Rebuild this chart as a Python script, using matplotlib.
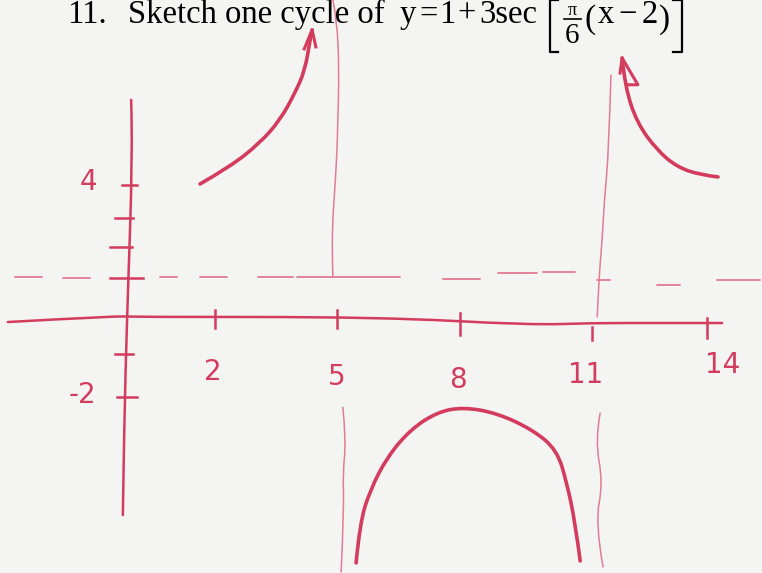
import matplotlib
matplotlib.use("Agg")
import matplotlib.pyplot as plt
from matplotlib.path import Path
from matplotlib.patches import PathPatch

# hand sketch of y = 1 + 3 sec[pi/6 (x-2)] (graph units)
ink = "#d43c5e"
pale = "#e27b93"

# upper-left branch, from (2, 4) up to the asymptote at x = 5
left_x = [1.76, 2.48, 3.20, 3.69, 4.05, 4.29, 4.41, 4.46]
left_y = [4.00, 4.51, 5.22, 5.91, 6.72, 7.40, 8.30, 8.60]
left_head_x = [4.27, 4.46, 4.55]
left_head_y = [8.03, 8.60, 8.09]

# lower branch, vertex at (8, -2)
low_x = [5.52, 5.61, 5.86, 6.27, 6.82, 7.47, 8.10, 8.92, 9.78, 10.36, 10.60, 10.80, 10.92]
low_y = [-7.31, -6.12, -5.13, -4.15, -3.34, -2.81, -2.66, -2.84, -3.34, -3.94, -4.93, -6.12, -7.25]

# upper-right branch, down to (14, 4)
right_x = [11.93, 12.00, 12.29, 12.77, 13.25, 13.81, 14.24]
right_y = [7.76, 6.90, 5.82, 5.01, 4.51, 4.27, 4.21]
right_head_x = [11.88, 11.93, 12.31, 12.05]
right_head_y = [7.31, 7.76, 6.96, 6.96]

# asymptotes (wobbly hand lines)
asym5_top_x = [4.96, 5.06, 5.11, 5.08, 5.06, 4.99, 4.96, 4.94, 4.96]
asym5_top_y = [9.49, 8.90, 7.40, 5.91, 4.93, 3.52, 3.01, 2.03, 1.22]
asym5_low_x = [5.20, 5.28, 5.20, 5.23, 5.16]
asym5_low_y = [-2.66, -3.64, -4.63, -5.64, -7.58]
asym11_top_x = [11.66, 11.61, 11.50, 11.45, 11.37, 11.33]
asym11_top_y = [7.25, 5.01, 3.50, 2.33, 1.19, 0.03]
asym11_low_x = [11.40, 11.28, 11.47, 11.28, 11.47]
asym11_low_y = [-2.84, -3.64, -4.93, -6.12, -7.43]

# axes
xaxis_x = [-2.87, -0.24, 0.0, 6.10, 9.71, 11.20, 12.67, 14.34]
xaxis_y = [-0.12, 0.06, 0.03, 0.03, -0.21, -0.15, -0.15, -0.15]
yaxis_x = [0.10, 0.14, 0.00, -0.07, -0.10]
yaxis_y = [6.51, 5.01, 0.03, -3.34, -5.88]

xtick_pos = [2.12, 5.06, 8.02, 11.20, 13.98]
xtick_top = [0.24, 0.24, 0.15, -0.27, 0.00]
xtick_bot = [-0.30, -0.30, -0.51, -0.66, -0.60]
xtick_labels = ["2", "5", "8", "11", "14"]
xlabel_pos = [2.07, 5.06, 7.98, 11.04, 14.34]
xlabel_y = [-1.61, -1.76, -1.85, -1.70, -1.40]

ytick_pos = [3.97, 2.99, 2.12, 1.19, -1.07, -2.36]
ytick_left = [-0.12, -0.29, -0.41, -0.41, -0.29, -0.24]
ytick_right = [0.24, 0.14, 0.12, 0.39, 0.14, 0.24]
ylabel_text = ["4", "-2"]
ylabel_x = [-0.94, -1.08]
ylabel_y = [4.06, -2.30]

# dashed midline y = 1, drawn as separate strokes
dash_start = [-2.70, -1.54, 0.80, 1.76, 3.16, 4.10, 7.61, 8.94, 10.02, 11.33, 12.77, 14.22]
dash_end = [-2.05, -0.89, 1.20, 2.41, 4.00, 6.58, 8.51, 9.88, 10.80, 11.64, 13.33, 15.25]
dash_y = [1.22, 1.19, 1.22, 1.22, 1.22, 1.22, 1.16, 1.34, 1.37, 1.13, 0.99, 1.13]


def smooth(ax, xs, ys, **kw):
    # quadratic bezier through midpoints, like a pen stroke
    pts = list(zip(xs, ys))
    verts = [pts[0]]
    codes = [Path.MOVETO]
    for i in range(1, len(pts) - 1):
        mid = ((pts[i][0] + pts[i + 1][0]) / 2, (pts[i][1] + pts[i + 1][1]) / 2)
        if i == len(pts) - 2:
            mid = pts[-1]
        verts += [pts[i], mid]
        codes += [Path.CURVE3, Path.CURVE3]
    ax.add_patch(PathPatch(Path(verts, codes), fill=False, capstyle="round", **kw))


fig = plt.figure(figsize=(7.62, 5.73), dpi=100, facecolor="#f4f4f3")
ax = fig.add_axes([0, 0, 1, 1])
ax.set_facecolor("#f4f4f3")
ax.set_xlim(-3.06, 15.30)
ax.set_ylim(-7.61, 9.49)
ax.axis("off")

smooth(ax, xaxis_x, xaxis_y, color=ink, lw=1.8)
smooth(ax, yaxis_x, yaxis_y, color=ink, lw=1.8)
for xp, t, b in zip(xtick_pos, xtick_top, xtick_bot):
    ax.plot([xp, xp], [t, b], color=ink, lw=1.8)
for yp, l, r in zip(ytick_pos, ytick_left, ytick_right):
    ax.plot([l, r], [yp, yp], color=ink, lw=1.8)
for s, e, yv in zip(dash_start, dash_end, dash_y):
    ax.plot([s, e], [yv, yv], color=pale, lw=1.3, solid_capstyle="round")

for xs, ys in [(asym5_top_x, asym5_top_y), (asym5_low_x, asym5_low_y),
               (asym11_top_x, asym11_top_y), (asym11_low_x, asym11_low_y)]:
    smooth(ax, xs, ys, color=pale, lw=1.1)

smooth(ax, left_x, left_y, color=ink, lw=2.6)
ax.plot(left_head_x, left_head_y, color=ink, lw=2.2)
smooth(ax, low_x, low_y, color=ink, lw=2.6)
smooth(ax, right_x, right_y, color=ink, lw=2.6)
ax.plot(right_head_x, right_head_y, color=ink, lw=2.2)

for lab, xp, yp in zip(xtick_labels, xlabel_pos, xlabel_y):
    ax.text(xp, yp, lab, color=ink, fontsize=20, ha="center", va="center")
for lab, xp, yp in zip(ylabel_text, ylabel_x, ylabel_y):
    ax.text(xp, yp, lab, color=ink, fontsize=20, ha="center", va="center")

# printed question at the top (pixel positions on the page)
serif = "Liberation Serif"
W, H = 762, 573
base = 1 - 23 / H
title_parts = ["11.", "Sketch one cycle of", "y", "=", "1", "+", "3sec", "x", "\u2212", "2"]
title_px = [67, 128, 400, 419, 439, 457, 479, 598, 618, 642]
for s, px in zip(title_parts, title_px):
    fig.text(px / W, base, s, fontsize=23.5, family=serif, va="baseline")
fig.text(572 / W, 1 - 15 / H, "\u03c0", fontsize=13, family=serif, va="baseline", ha="center")
fig.text(572.5 / W, 1 - 43 / H, "6", fontsize=21, family=serif, va="baseline", ha="center")
fig.text(585 / W, 1 - 28 / H, "(", fontsize=24, family=serif, va="baseline")
fig.text(659 / W, 1 - 28 / H, ")", fontsize=24, family=serif, va="baseline")
fig.add_artist(plt.Line2D([564 / W, 581 / W], [1 - 19 / H, 1 - 19 / H], color="black", lw=1.2))
fig.add_artist(plt.Line2D([558 / W, 550 / W, 550 / W, 558 / W],
                          [1, 1, 1 - 52 / H, 1 - 52 / H], color="black", lw=1.6))
fig.add_artist(plt.Line2D([673 / W, 682 / W, 682 / W, 673 / W],
                          [1, 1, 1 - 52 / H, 1 - 52 / H], color="black", lw=1.6))

fig.savefig("out.png", dpi=100, facecolor=fig.get_facecolor())
